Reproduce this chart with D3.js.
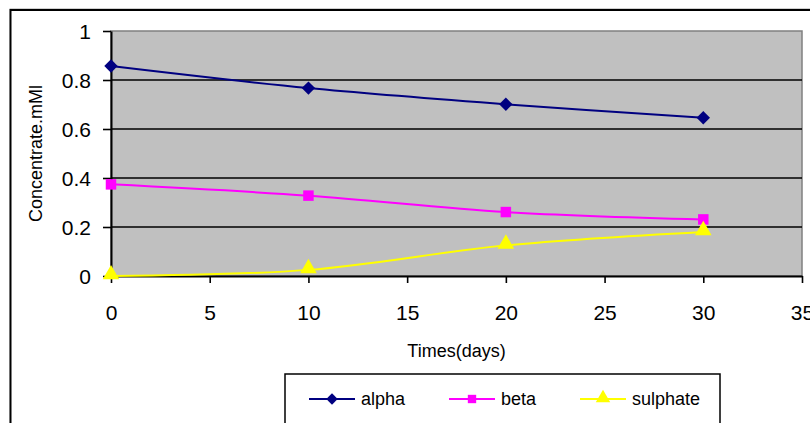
<!DOCTYPE html>
<html>
<head>
<meta charset="utf-8">
<script src="https://cdn.jsdelivr.net/npm/d3@7/dist/d3.min.js"></script>
<style>
  html, body { margin: 0; padding: 0; background: #fff; }
  svg { display: block; }
  text { font-family: "Liberation Sans", Arial, sans-serif; fill: #000; }
</style>
</head>
<body>
<svg id="chart" width="810" height="423"></svg>
<script>
// Sampling times (days) and measured concentrations (mM)
const days = [0, 10, 20, 30];
const alpha = [0.857, 0.767, 0.701, 0.646];
const beta = [0.374, 0.328, 0.261, 0.231];
const sulphate = [0.0, 0.025, 0.125, 0.18];

const seriesNames = ["alpha", "beta", "sulphate"];
const seriesColors = ["#000080", "#FF00FF", "#FFFF00"];

// square diamond: a square turned 45 degrees
const squareDiamond = {
  draw(context, size) {
    const r = Math.sqrt(size / 2);
    context.moveTo(0, -r);
    context.lineTo(r, 0);
    context.lineTo(0, r);
    context.lineTo(-r, 0);
    context.closePath();
  }
};
const seriesShapes = [squareDiamond, d3.symbolSquare, d3.symbolTriangle];

const xTicks = [0, 5, 10, 15, 20, 25, 30, 35];
const yTicks = [0, 0.2, 0.4, 0.6, 0.8, 1];

const xTitle = "Times(days)";
const yTitle = "Concentrate.mMl";

const svg = d3.select("#chart");
const W = 810, H = 423;
const plot = { left: 111, top: 31, right: 802, bottom: 276 };

// outer chart frame (runs off the right and bottom edges)
svg.append("rect").attr("x", 10).attr("y", 8.5).attr("width", W).attr("height", H)
  .attr("fill", "none").attr("stroke", "#d0d0d0").attr("stroke-width", 1);
svg.append("rect").attr("x", 10.5).attr("y", 10).attr("width", W).attr("height", H)
  .attr("fill", "#fff").attr("stroke", "#000").attr("stroke-width", 2);

const x = d3.scaleLinear().domain([0, 35]).range([plot.left, plot.right]);
const y = d3.scaleLinear().domain([0, 1]).range([plot.bottom, plot.top]);

// plot background
svg.append("rect")
  .attr("x", plot.left).attr("y", plot.top)
  .attr("width", plot.right - plot.left).attr("height", plot.bottom - plot.top)
  .attr("fill", "#C0C0C0").attr("stroke", "#808080").attr("stroke-width", 1.5);

// horizontal gridlines
svg.append("g").selectAll("line").data(yTicks.filter(v => v > 0 && v < 1)).join("line")
  .attr("x1", plot.left).attr("x2", plot.right)
  .attr("y1", d => y(d)).attr("y2", d => y(d))
  .attr("stroke", "#000").attr("stroke-width", 1.6);

// y axis
const yAxis = d3.axisLeft(y).tickValues(yTicks).tickSize(8).tickSizeOuter(0)
  .tickFormat(d => d3.format("")(+d.toFixed(1)));
const gy = svg.append("g").attr("transform", `translate(${plot.left},0)`).call(yAxis);
gy.select(".domain").attr("stroke", "#000").attr("stroke-width", 2);
gy.selectAll(".tick line").attr("stroke", "#000").attr("stroke-width", 1.6);
gy.selectAll(".tick text").attr("x", -20).attr("dy", "0.36em")
  .style("font-size", "21px").style("font-family", "Liberation Sans, Arial, sans-serif");

// x axis
const xAxis = d3.axisBottom(x).tickValues(xTicks).tickSize(7).tickSizeOuter(0);
const gx = svg.append("g").attr("transform", `translate(0,${plot.bottom})`).call(xAxis);
gx.select(".domain").attr("stroke", "#000").attr("stroke-width", 2);
gx.selectAll(".tick line").attr("stroke", "#000").attr("stroke-width", 1.6);
gx.selectAll(".tick text").attr("y", 44).attr("dy", 0)
  .style("font-size", "21px").style("font-family", "Liberation Sans, Arial, sans-serif");

// axis titles
svg.append("text").attr("x", (plot.left + plot.right) / 2).attr("y", 357)
  .attr("text-anchor", "middle").style("font-size", "18px").text(xTitle);
svg.append("text")
  .attr("transform", `translate(41.5,${(plot.top + plot.bottom) / 2}) rotate(-90)`)
  .attr("text-anchor", "middle").style("font-size", "18px").text(yTitle);

// series
const allSeries = [alpha, beta, sulphate];
const line = d3.line().x(d => x(d[0])).y(d => y(d[1])).curve(d3.curveCatmullRom.alpha(0.5));
const markerSizes = [90, 110, 120];

allSeries.forEach((vals, i) => {
  const pts = days.map((d, j) => [d, vals[j]]);
  svg.append("path").datum(pts).attr("d", line)
    .attr("fill", "none").attr("stroke", seriesColors[i]).attr("stroke-width", 2);
  svg.append("g").selectAll("path").data(pts).join("path")
    .attr("transform", d => `translate(${x(d[0])},${y(d[1]) + (i === 2 ? -1.5 : 0)})`)
    .attr("d", d3.symbol().type(seriesShapes[i]).size(markerSizes[i]))
    .attr("fill", seriesColors[i]);
});

// legend
const legend = svg.append("g");
legend.append("rect").attr("x", 285).attr("y", 374).attr("width", 435).attr("height", 80)
  .attr("fill", "#fff").attr("stroke", "#000").attr("stroke-width", 1.5);
const legendX = [309, 449, 580];
const legendY = 399;
seriesNames.forEach((name, i) => {
  const g = legend.append("g").attr("transform", `translate(${legendX[i]},${legendY})`);
  g.append("line").attr("x1", 0).attr("x2", 46).attr("y1", 0).attr("y2", 0)
    .attr("stroke", seriesColors[i]).attr("stroke-width", 2);
  g.append("path").attr("transform", `translate(23,${i === 2 ? -1 : 0})`)
    .attr("d", d3.symbol().type(seriesShapes[i]).size([65, 70, 90][i]))
    .attr("fill", seriesColors[i]);
  g.append("text").attr("x", 52).attr("y", 0).attr("dy", "0.36em")
    .style("font-size", "18px").text(name);
});
</script>
</body>
</html>
